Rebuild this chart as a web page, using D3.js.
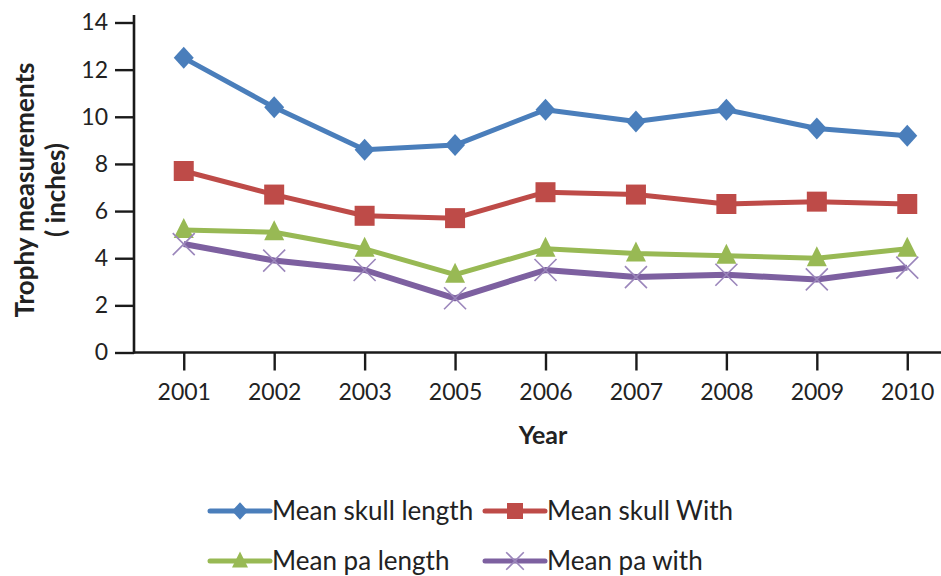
<!DOCTYPE html>
<html>
<head>
<meta charset="utf-8">
<script src="https://cdn.jsdelivr.net/npm/d3@7"></script>
<style>
  html, body { margin: 0; padding: 0; background: #fff; }
  svg { display: block; font-family: Lato, "Open Sans", sans-serif; }
</style>
</head>
<body>
<svg id="chart" width="941" height="576"></svg>
<script>
// Trophy measurements by year (inches)
const years = ["2001", "2002", "2003", "2005", "2006", "2007", "2008", "2009", "2010"];
const skullLength = [12.5, 10.4, 8.6, 8.8, 10.3, 9.8, 10.3, 9.5, 9.2];
const skullWidth  = [7.7, 6.7, 5.8, 5.7, 6.8, 6.7, 6.3, 6.4, 6.3];
const paLength    = [5.2, 5.1, 4.4, 3.3, 4.4, 4.2, 4.1, 4.0, 4.4];
const paWidth     = [4.6, 3.9, 3.5, 2.3, 3.5, 3.2, 3.3, 3.1, 3.6];
const yTicks = [0, 2, 4, 6, 8, 10, 12, 14];

const seriesNames = ["Mean skull length", "Mean skull With", "Mean pa length", "Mean pa with"];
const seriesValues = [skullLength, skullWidth, paLength, paWidth];
const seriesColors = ["#4a7ebb", "#be4b48", "#98b954", "#7d60a0"];
const seriesMarkers = ["diamond", "square", "triangle", "cross"];

const svg = d3.select("#chart");
const axisColor = "#1a1a1a";
const textColor = "#222";

const x = d3.scalePoint().domain(years).range([134, 957]).padding(0.55);
const y = d3.scaleLinear().domain([0, 14]).range([352.5, 22.5]);

// y axis
const yAxis = svg.append("g")
  .attr("transform", "translate(134,0)")
  .call(d3.axisLeft(y).tickValues(yTicks).tickSize(19).tickPadding(7));
yAxis.select(".domain").remove();
svg.append("line")
  .attr("x1", 134).attr("x2", 134).attr("y1", 15).attr("y2", 353.5)
  .attr("stroke", axisColor).attr("stroke-width", 2.6);

// x axis
const xAxis = svg.append("g")
  .attr("transform", "translate(0,352.5)")
  .call(d3.axisBottom(x).tickSize(18).tickPadding(13));
xAxis.select(".domain").remove();
svg.append("line")
  .attr("x1", 133).attr("x2", 941).attr("y1", 352.5).attr("y2", 352.5)
  .attr("stroke", axisColor).attr("stroke-width", 2.6);

svg.selectAll(".tick line").attr("stroke", axisColor).attr("stroke-width", 2.4);
svg.selectAll(".tick text")
  .attr("fill", textColor)
  .style("font-family", "Lato, 'Open Sans', sans-serif")
  .style("font-size", "23px");

// axis titles
svg.append("text")
  .attr("x", 543).attr("y", 444)
  .attr("text-anchor", "middle")
  .style("font-weight", "bold").style("font-size", "25px").attr("fill", textColor)
  .text("Year");

const yTitle = svg.append("g").attr("transform", "translate(0,190) rotate(-90)");
yTitle.append("text")
  .attr("x", 0).attr("y", 34)
  .attr("text-anchor", "middle")
  .style("font-weight", "bold").style("font-size", "26px").attr("fill", textColor)
  .text("Trophy measurements");
yTitle.append("text")
  .attr("x", 0).attr("y", 65)
  .attr("text-anchor", "middle")
  .style("font-weight", "bold").style("font-size", "26px").attr("fill", textColor)
  .text("( inches)");

// marker drawing (k scales the symbol size)
function drawMarker(g, type, color, k) {
  if (type === "diamond") {
    g.append("path").attr("d", `M0,${-11 * k}L${10 * k},0L0,${11 * k}L${-10 * k},0Z`).attr("fill", color);
  } else if (type === "square") {
    const h = 10 * k;
    g.append("rect").attr("x", -h).attr("y", -h).attr("width", 2 * h).attr("height", 2 * h).attr("fill", color);
  } else if (type === "triangle") {
    g.append("path").attr("d", `M0,${-12 * k}L${10 * k},${8 * k}L${-10 * k},${8 * k}Z`).attr("fill", color);
  } else {
    const h = 11 * k;
    g.append("path").attr("d", `M${-h},${-h}L${h},${h}M${-h},${h}L${h},${-h}`)
      .attr("stroke", "#9b86bb").attr("stroke-width", 1.6).attr("fill", "none");
  }
}

const line = d3.line().x((d, i) => x(years[i])).y(d => y(d));

seriesValues.forEach((vals, s) => {
  svg.append("path")
    .datum(vals)
    .attr("d", line)
    .attr("fill", "none")
    .attr("stroke", seriesColors[s])
    .attr("stroke-width", s === 3 ? 6 : 5)
    .attr("stroke-linejoin", "round");
  vals.forEach((v, i) => {
    const g = svg.append("g").attr("transform", `translate(${x(years[i])},${y(v)})`);
    drawMarker(g, seriesMarkers[s], seriesColors[s], 1);
  });
});

// legend
const legendPos = [[210, 511], [485, 511], [210, 561], [485, 561]];
seriesNames.forEach((name, s) => {
  const [lx, ly] = legendPos[s];
  const g = svg.append("g");
  g.append("line")
    .attr("x1", lx).attr("x2", lx + 60).attr("y1", ly).attr("y2", ly)
    .attr("stroke", seriesColors[s]).attr("stroke-width", 5).attr("stroke-linecap", "round");
  const m = g.append("g").attr("transform", `translate(${lx + 30},${ly})`);
  drawMarker(m, seriesMarkers[s], seriesColors[s], 0.8);
  g.append("text")
    .attr("x", lx + 62).attr("y", ly + 9)
    .style("font-size", "26px").attr("fill", textColor)
    .text(name);
});
</script>
</body>
</html>
